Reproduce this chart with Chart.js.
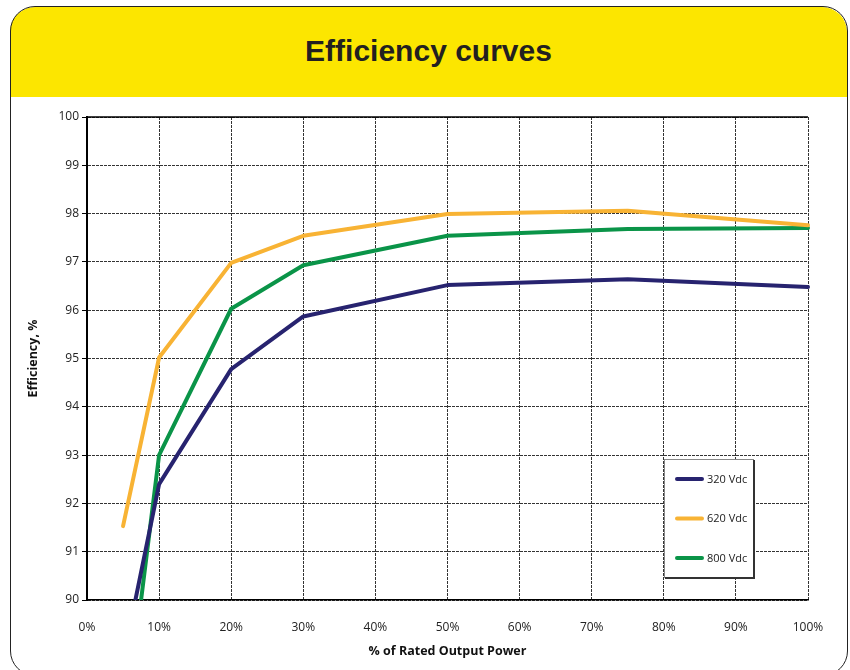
<!DOCTYPE html>
<html>
<head>
<meta charset="utf-8">
<script src="https://cdn.jsdelivr.net/npm/chart.js@4/dist/chart.umd.min.js"></script>
<style>
  html, body { margin: 0; padding: 0; background: #fff; }
  #wrap { position: relative; width: 850px; height: 670px; overflow: hidden; }
  #header { position: absolute; left: 10px; top: 7px; width: 837px; height: 90px;
    background: #fce600; border-radius: 25px 25px 0 0; }
  #title { position: absolute; left: 10px; top: 7px; width: 837px; height: 88px;
    display: flex; align-items: center; justify-content: center;
    font-family: "Liberation Sans", Arial, sans-serif; font-weight: bold; font-size: 30px; color: #231f20; }
  #frame { position: absolute; left: 10px; top: 6px; width: 836px; height: 668px;
    border: 1.5px solid #222; border-radius: 25px; }
  canvas { position: absolute; left: 0; top: 0; }
</style>
</head>
<body>
<div id="wrap">
  <div id="header"></div>
  <div id="title">Efficiency curves</div>
  <div id="frame"></div>
  <canvas id="c" width="850" height="670"></canvas>
</div>
<script>
// Load levels (% of rated output power)
const loads = [5, 10, 20, 30, 50, 75, 100];
// Efficiency (%) per series
const eff320 = [88.75, 92.4, 94.78, 95.87, 96.52, 96.64, 96.48];
const eff620 = [91.53, 95.02, 96.98, 97.54, 97.99, 98.06, 97.76];
const eff800 = [87.0, 93.0, 96.03, 96.93, 97.54, 97.68, 97.70];
const seriesNames = ['320 Vdc', '620 Vdc', '800 Vdc'];
const seriesColors = ['#27236f', '#f8b334', '#0a9448'];
const yTicks = { min: 90, max: 100, step: 1 };
const xTicks = { min: 0, max: 100, step: 10 };

const toPts = vals => loads.map((x, i) => ({ x: x, y: vals[i] }));
const allVals = [eff320, eff620, eff800];

const datasets = allVals.map((vals, i) => ({
  label: seriesNames[i],
  data: toPts(vals),
  borderColor: seriesColors[i],
  backgroundColor: seriesColors[i],
  borderWidth: 4,
  pointRadius: 0,
  pointHoverRadius: 0,
  tension: 0,
  fill: false,
  borderCapStyle: 'round',
  borderJoinStyle: 'round',
  clip: { left: 5, top: 5, right: 5, bottom: 0 }
}));

const topLine = {
  id: 'topLine',
  beforeDatasetsDraw(chart) {
    const { ctx, chartArea } = chart;
    ctx.save();
    ctx.strokeStyle = '#000';
    ctx.lineWidth = 1.5;
    ctx.beginPath();
    ctx.moveTo(chartArea.left, chartArea.top);
    ctx.lineTo(chartArea.right, chartArea.top);
    ctx.stroke();
    ctx.restore();
  }
};

const boxLegend = {
  id: 'boxLegend',
  afterDraw(chart) {
    const { ctx, chartArea } = chart;
    const left = chartArea.right - 144, top = chartArea.bottom - 141;
    const w = 89, h = 118;
    ctx.save();
    ctx.fillStyle = '#fff';
    ctx.fillRect(left, top, w, h);
    ctx.strokeStyle = '#888';
    ctx.lineWidth = 1;
    ctx.strokeRect(left + 0.5, top + 0.5, w, h);
    ctx.strokeStyle = '#333';
    ctx.lineWidth = 2;
    ctx.beginPath();
    ctx.moveTo(left + w + 1, top + 1);
    ctx.lineTo(left + w + 1, top + h + 1);
    ctx.lineTo(left + 1, top + h + 1);
    ctx.stroke();
    chart.data.datasets.forEach((ds, i) => {
      const y = top + 20 + i * 39.5;
      ctx.strokeStyle = ds.borderColor;
      ctx.lineWidth = 4;
      ctx.lineCap = 'round';
      ctx.beginPath();
      ctx.moveTo(left + 13, y);
      ctx.lineTo(left + 38, y);
      ctx.stroke();
      ctx.fillStyle = '#222';
      ctx.font = '11px "Open Sans", sans-serif';
      ctx.textBaseline = 'middle';
      ctx.textAlign = 'left';
      ctx.fillText(ds.label, left + 43, y + 0.5);
    });
    ctx.restore();
  }
};

new Chart(document.getElementById('c'), {
  type: 'line',
  data: { datasets: datasets },
  plugins: [topLine, boxLegend],
  options: {
    responsive: false,
    animation: false,
    layout: { padding: { left: 22, right: 42, top: 117, bottom: 7 } },
    plugins: { legend: { display: false }, tooltip: { enabled: false }, title: { display: false } },
    scales: {
      x: {
        type: 'linear',
        min: xTicks.min, max: xTicks.max,
        ticks: {
          stepSize: xTicks.step,
          callback: v => v + '%',
          font: { family: '"Open Sans", sans-serif', size: 12 },
          color: '#222',
          padding: 20,
          maxRotation: 0,
          autoSkip: false
        },
        grid: { drawTicks: false, color: '#333', lineWidth: 1 },
        border: { color: '#000', width: 1.5, dash: [3, 1] },
        title: {
          display: true,
          text: '% of Rated Output Power',
          font: { family: '"Open Sans", sans-serif', size: 12.5, weight: 'bold' },
          color: '#111',
          padding: { top: 0, bottom: 4 }
        },
        afterFit(s) { s.height = 63; }
      },
      y: {
        min: yTicks.min, max: yTicks.max,
        ticks: {
          stepSize: yTicks.step,
          font: { family: '"Open Sans", sans-serif', size: 12 },
          color: '#222',
          padding: 3
        },
        grid: { color: '#333', lineWidth: 1, tickLength: 5, tickColor: '#000' },
        border: { color: '#000', width: 2, dash: [3, 1] },
        title: {
          display: true,
          text: 'Efficiency, %',
          font: { family: '"Open Sans", sans-serif', size: 12.5, weight: 'bold' },
          color: '#111',
          padding: { top: 4, bottom: 0 }
        },
        afterFit(s) { s.width = 65; }
      }
    }
  }
});
</script>
</body>
</html>
